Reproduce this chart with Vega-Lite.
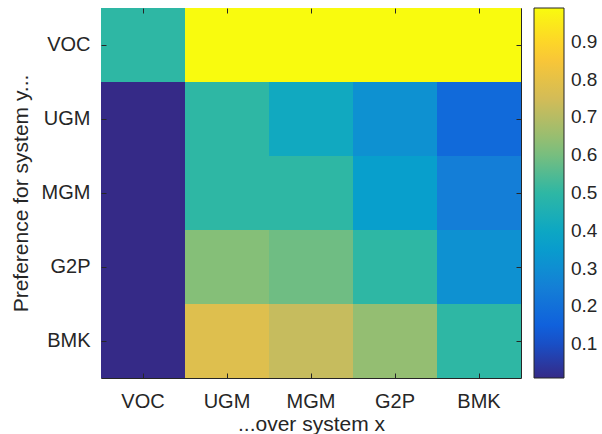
{
  "$schema": "https://vega.github.io/schema/vega-lite/v6.json",
  "width": 420,
  "height": 370,
  "autosize": "none",
  "padding": {"left": 101, "top": 8, "right": 81, "bottom": 56},
  "background": "white",
  "config": {
    "font": "Liberation Sans",
    "view": {"stroke": "#262626", "strokeWidth": 1},
    "axis": {
      "domain": false,
      "grid": false,
      "tickColor": "#262626",
      "tickSize": -5,
      "labelColor": "#262626",
      "titleColor": "#262626",
      "labelFontSize": 20,
      "titleFontSize": 21,
      "titleFontWeight": "normal",
      "labelAngle": 0
    }
  },
  "data": {
    "values": [
      {"x": "VOC", "y": "VOC", "v": 0.5},
      {"x": "UGM", "y": "VOC", "v": 0.99},
      {"x": "MGM", "y": "VOC", "v": 0.99},
      {"x": "G2P", "y": "VOC", "v": 0.99},
      {"x": "BMK", "y": "VOC", "v": 0.99},
      {"x": "VOC", "y": "UGM", "v": 0.01},
      {"x": "UGM", "y": "UGM", "v": 0.5},
      {"x": "MGM", "y": "UGM", "v": 0.41},
      {"x": "G2P", "y": "UGM", "v": 0.31},
      {"x": "BMK", "y": "UGM", "v": 0.18},
      {"x": "VOC", "y": "MGM", "v": 0.01},
      {"x": "UGM", "y": "MGM", "v": 0.5},
      {"x": "MGM", "y": "MGM", "v": 0.5},
      {"x": "G2P", "y": "MGM", "v": 0.36},
      {"x": "BMK", "y": "MGM", "v": 0.245},
      {"x": "VOC", "y": "G2P", "v": 0.01},
      {"x": "UGM", "y": "G2P", "v": 0.62},
      {"x": "MGM", "y": "G2P", "v": 0.59},
      {"x": "G2P", "y": "G2P", "v": 0.5},
      {"x": "BMK", "y": "G2P", "v": 0.31},
      {"x": "VOC", "y": "BMK", "v": 0.01},
      {"x": "UGM", "y": "BMK", "v": 0.78},
      {"x": "MGM", "y": "BMK", "v": 0.726},
      {"x": "G2P", "y": "BMK", "v": 0.644},
      {"x": "BMK", "y": "BMK", "v": 0.5}
    ]
  },
  "resolve": {"axis": {"x": "independent", "y": "independent"}},
  "layer": [
    {
      "mark": {"type": "rect"},
      "encoding": {
        "x": {
          "field": "x", "type": "nominal",
          "sort": ["VOC", "UGM", "MGM", "G2P", "BMK"],
          "scale": {"paddingInner": 0, "paddingOuter": 0},
          "axis": {"title": "...over system x", "labelPadding": 18, "titlePadding": 2}
        },
        "y": {
          "field": "y", "type": "nominal",
          "sort": ["VOC", "UGM", "MGM", "G2P", "BMK"],
          "scale": {"paddingInner": 0, "paddingOuter": 0},
          "axis": {"title": "Preference for system y...", "labelPadding": 16, "titlePadding": 10}
        },
        "color": {
          "field": "v", "type": "quantitative",
          "scale": {
            "domain": [0.01, 0.99],
            "range": ["#352a87", "#0f5cdd", "#1481d6", "#06a4ca", "#2eb7a4", "#87bf77", "#d1bb59", "#fec832", "#f9fb0e"],
            "interpolate": "rgb"
          },
          "legend": {
            "title": null,
            "orient": "right",
            "offset": 12,
            "gradientLength": 370,
            "gradientThickness": 30,
            "gradientStrokeColor": "#262626",
            "gradientStrokeWidth": 1,
            "values": [0.1, 0.2, 0.3, 0.4, 0.5, 0.6, 0.7, 0.8, 0.9],
            "labelFontSize": 19,
            "labelColor": "#262626",
            "labelOffset": 7,
            "labelOverlap": false,
            "padding": 0
          }
        }
      }
    },
    {
      "mark": {"type": "rect", "opacity": 0},
      "encoding": {
        "x": {
          "field": "x", "type": "nominal",
          "sort": ["VOC", "UGM", "MGM", "G2P", "BMK"],
          "axis": {"orient": "top", "labels": false, "title": null}
        },
        "y": {
          "field": "y", "type": "nominal",
          "sort": ["VOC", "UGM", "MGM", "G2P", "BMK"],
          "axis": {"orient": "right", "labels": false, "title": null}
        }
      }
    }
  ]
}
